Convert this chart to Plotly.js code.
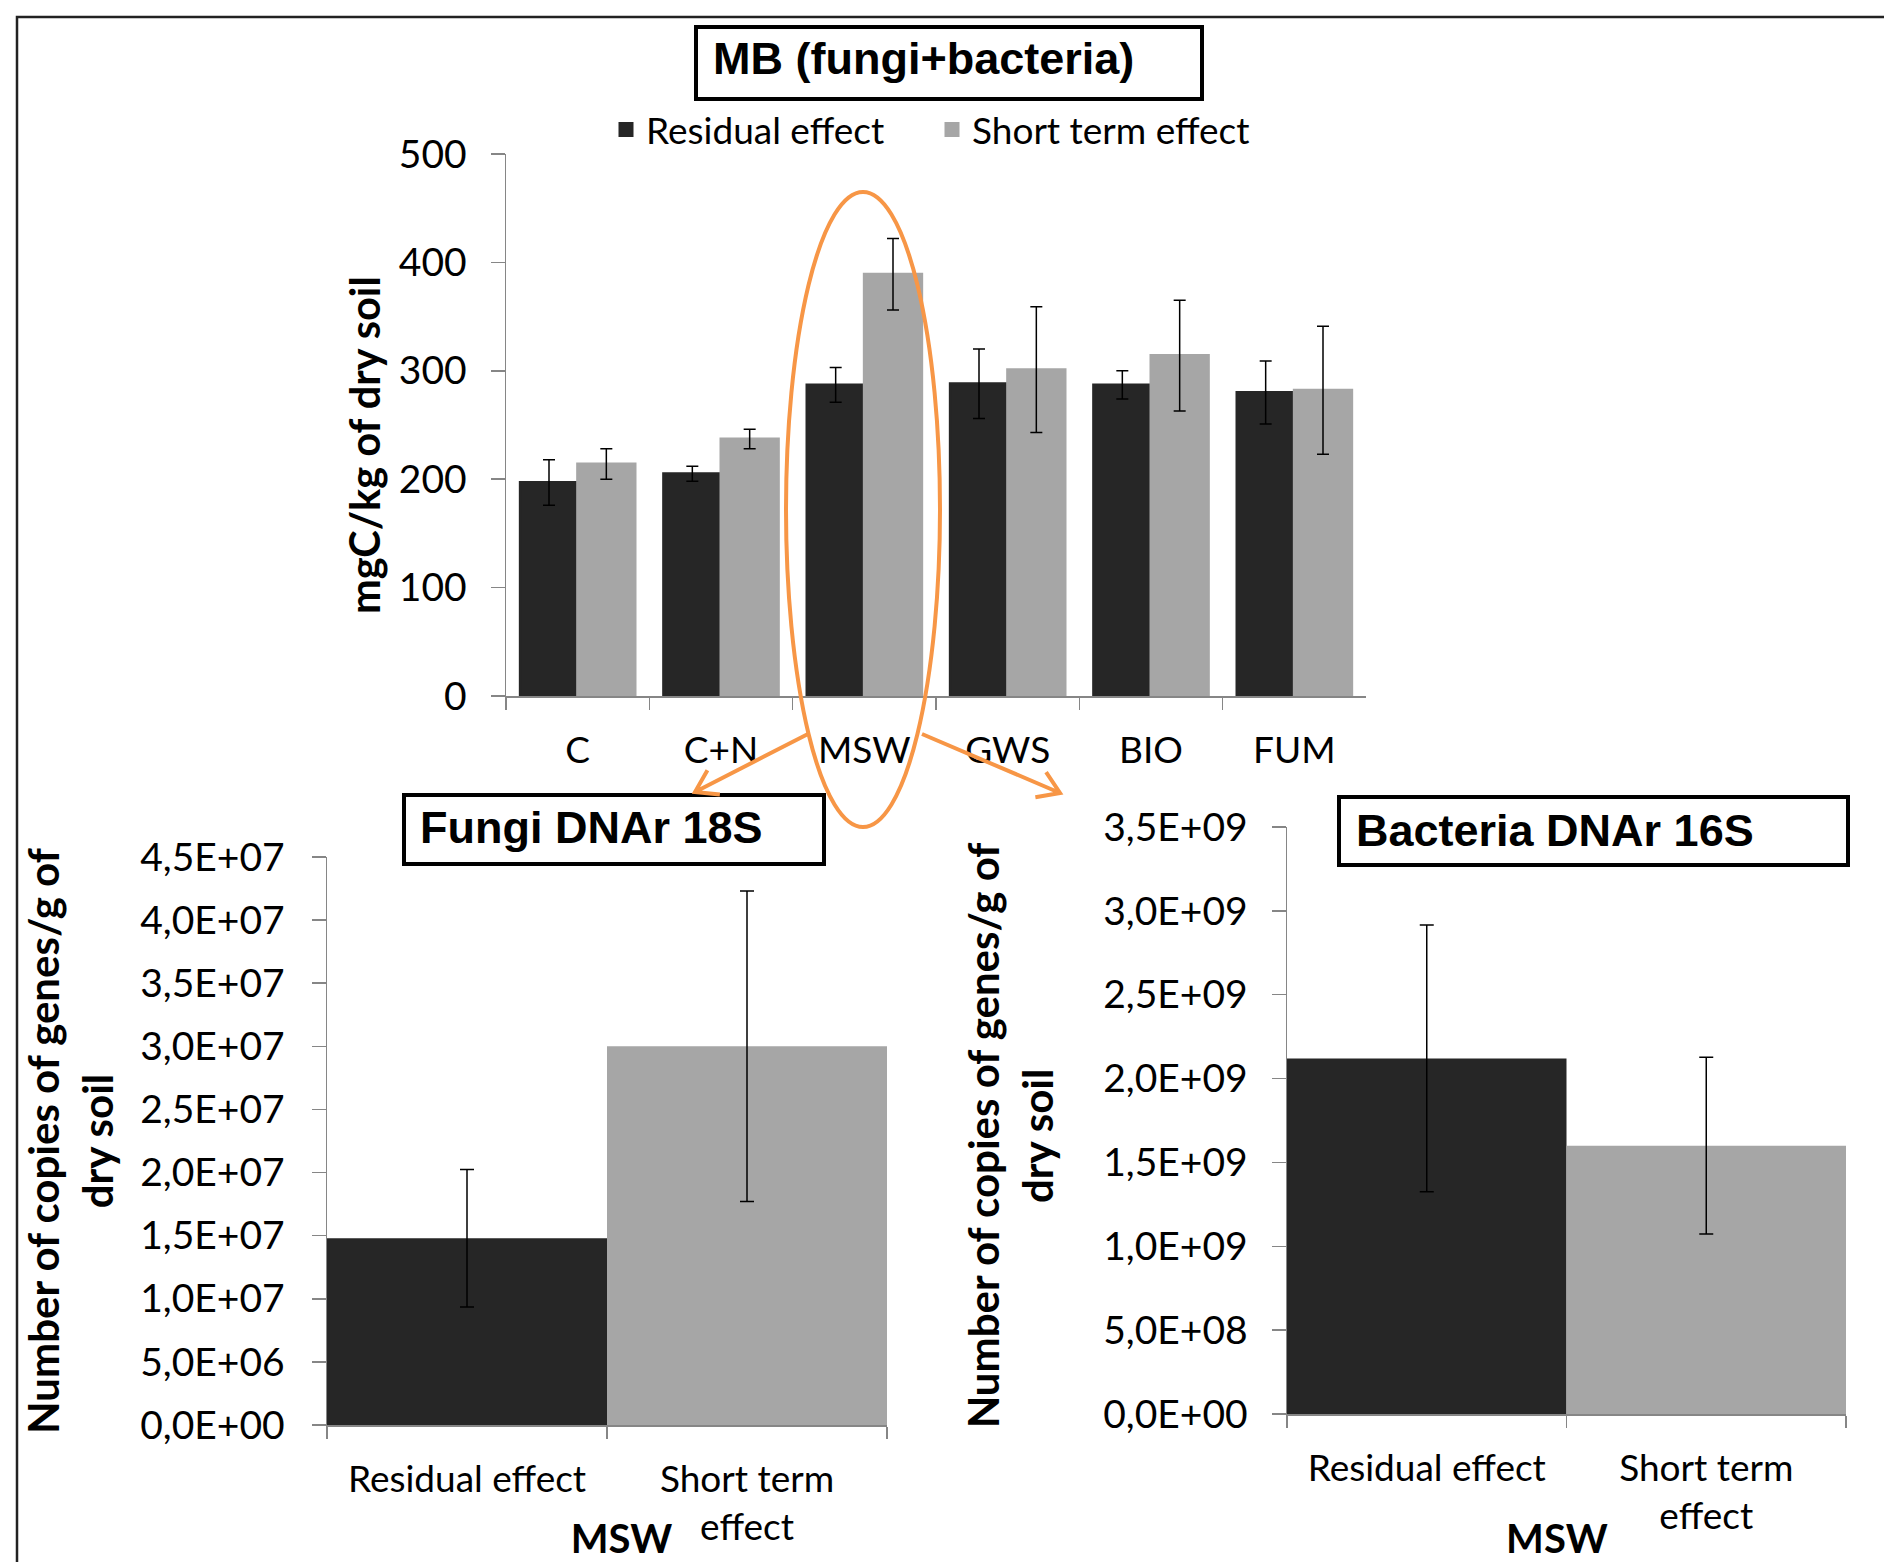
<!DOCTYPE html>
<html>
<head>
<meta charset="utf-8">
<script src="https://cdn.plot.ly/plotly-3.0.1.min.js"></script>
<style>
html, body { margin: 0; padding: 0; background: #ffffff; }
#chart { width: 1884px; height: 1562px; }
</style>
</head>
<body>
<div id="chart"></div>
<script>
// ---------------- DATA ----------------
const treatments = ['C', 'C+N', 'MSW', 'GWS', 'BIO', 'FUM'];
const residualMB = [197, 205, 287, 288, 287, 280];
const residualMBErr = [21, 7, 16, 32, 13, 29];
const shortMB = [214, 237, 389, 301, 314, 282];
const shortMBErr = [14, 9, 33, 58, 51, 59];

const effectLabels = ['Residual effect', 'Short term<br>effect'];
const fungiCopies = [1.48e7, 3.0e7];
const fungiErr = [5.45e6, 1.23e7];
const bacteriaCopies = [2.12e9, 1.60e9];
const bacteriaErr = [7.95e8, 5.27e8];

const mbTickVals = [0, 100, 200, 300, 400, 500];
const fungiTickVals = [0, 5e6, 1e7, 1.5e7, 2e7, 2.5e7, 3e7, 3.5e7, 4e7, 4.5e7];
const fungiTickText = ['0,0E+00', '5,0E+06', '1,0E+07', '1,5E+07', '2,0E+07', '2,5E+07', '3,0E+07', '3,5E+07', '4,0E+07', '4,5E+07'];
const bacteriaTickVals = [0, 5e8, 1e9, 1.5e9, 2e9, 2.5e9, 3e9, 3.5e9];
const bacteriaTickText = ['0,0E+00', '5,0E+08', '1,0E+09', '1,5E+09', '2,0E+09', '2,5E+09', '3,0E+09', '3,5E+09'];

// ---------------- STYLE ----------------
const W = 1884, H = 1562;
const DARK = '#262626', LIGHT = '#a6a6a6', AX = '#868686', ORANGE = '#f79646';
const SANS = 'Lato, "Open Sans", sans-serif';
const ARIAL = '"Liberation Sans", Arial, sans-serif';
const px = x => x / W;
const py = y => 1 - y / H;
const NB = n => '&nbsp;'.repeat(n);   // invisible padding used to nudge centred titles

const traces = [
  {
    type: 'bar', name: 'Residual effect', x: treatments, y: residualMB,
    xaxis: 'x', yaxis: 'y', legend: 'legend',
    marker: { color: DARK, line: { color: DARK, width: 3 } },
    error_y: { type: 'data', array: residualMBErr, visible: true, color: '#000', thickness: 1.5, width: 6 }
  },
  {
    type: 'bar', name: 'Short term effect', x: treatments, y: shortMB,
    xaxis: 'x', yaxis: 'y', legend: 'legend2',
    marker: { color: LIGHT, line: { color: LIGHT, width: 3 } },
    error_y: { type: 'data', array: shortMBErr, visible: true, color: '#000', thickness: 1.5, width: 6 }
  },
  {
    type: 'bar', x: effectLabels, y: fungiCopies, width: 1, showlegend: false,
    xaxis: 'x2', yaxis: 'y2',
    marker: { color: [DARK, LIGHT] },
    error_y: { type: 'data', array: fungiErr, visible: true, color: '#000', thickness: 1.5, width: 7 }
  },
  {
    type: 'bar', x: effectLabels, y: bacteriaCopies, width: 1, showlegend: false,
    xaxis: 'x3', yaxis: 'y3',
    marker: { color: [DARK, LIGHT] },
    error_y: { type: 'data', array: bacteriaErr, visible: true, color: '#000', thickness: 1.5, width: 7 }
  }
];

function xAxis(domain, anchor, titleText, titleStandoff) {
  const a = {
    domain: domain, anchor: anchor, type: 'category',
    showline: true, linecolor: AX, linewidth: 1.5,
    ticks: 'outside', tickson: 'boundaries', ticklen: 12, tickwidth: 1.5, tickcolor: AX,
    tickfont: { family: SANS, size: 37, color: '#000' },
    ticklabelstandoff: 21,
    showgrid: false, zeroline: false, fixedrange: true
  };
  if (titleText) a.title = { text: titleText, standoff: titleStandoff, font: { family: SANS, size: 40, color: '#000', weight: 'bold' } };
  return a;
}
function yAxis(domain, anchor, range, vals, text, titleText, standoff, titleSize, labelStandoff) {
  return {
    domain: domain, anchor: anchor, range: range,
    tickmode: 'array', tickvals: vals, ticktext: text,
    showline: true, linecolor: AX, linewidth: 1.5,
    ticks: 'outside', ticklen: 14, tickwidth: 1.5, tickcolor: AX,
    tickfont: { family: SANS, size: 39, color: '#000' },
    ticklabelstandoff: labelStandoff,
    showgrid: false, zeroline: false, fixedrange: true,
    title: { text: titleText, standoff: standoff, font: { family: SANS, size: titleSize, color: '#000', weight: 'bold' } }
  };
}

function arrowPath(t, h, len, ang) {
  const dx = h[0] - t[0], dy = h[1] - t[1];
  const L = Math.hypot(dx, dy);
  const bx = -dx / L, by = -dy / L;
  const r = ang * Math.PI / 180;
  const c = Math.cos(r), s = Math.sin(r);
  const b1 = [h[0] + len * (bx * c - by * s), h[1] + len * (bx * s + by * c)];
  const b2 = [h[0] + len * (bx * c + by * s), h[1] + len * (-bx * s + by * c)];
  const P = p => px(p[0]) + ',' + py(p[1]);
  return 'M' + P(t) + ' L' + P(h) + ' M' + P(b1) + ' L' + P(h) + ' L' + P(b2);
}

function rect(x0, y0, x1, y1, color, width) {
  return { type: 'rect', xref: 'paper', yref: 'paper', x0: px(x0), x1: px(x1), y0: py(y0), y1: py(y1),
           line: { color: color, width: width }, fillcolor: 'rgba(0,0,0,0)', layer: 'above' };
}

const shapes = [
  rect(17, 17, 1910, 1600, '#222', 2.5),
  rect(696, 27, 1202, 99, '#000', 4),
  rect(404, 795, 824, 864, '#000', 4),
  rect(1339, 797, 1848, 865, '#000', 4),
  { type: 'circle', xref: 'paper', yref: 'paper', x0: px(786), x1: px(940), y0: py(827), y1: py(192),
    line: { color: ORANGE, width: 4 }, layer: 'above' },
  { type: 'path', xref: 'paper', yref: 'paper', path: arrowPath([808, 734], [695, 792], 25, 33),
    line: { color: ORANGE, width: 4 }, layer: 'above' },
  { type: 'path', xref: 'paper', yref: 'paper', path: arrowPath([922, 734], [1060, 793], 25, 33),
    line: { color: ORANGE, width: 4 }, layer: 'above' }
];

const titleFont = { family: ARIAL, size: 45, color: '#000', weight: 'bold' };
const annotations = [
  { xref: 'paper', yref: 'paper', x: px(711), y: py(58), xanchor: 'left', yanchor: 'middle',
    text: 'MB (fungi+bacteria)', showarrow: false, font: titleFont },
  { xref: 'paper', yref: 'paper', x: px(418), y: py(828), xanchor: 'left', yanchor: 'middle',
    text: 'Fungi DNAr 18S', showarrow: false, font: titleFont },
  { xref: 'paper', yref: 'paper', x: px(1354), y: py(830), xanchor: 'left', yanchor: 'middle',
    text: 'Bacteria DNAr 16S', showarrow: false, font: titleFont }
];

const legendBase = {
  orientation: 'h', xanchor: 'left', yanchor: 'middle', y: py(130),
  font: { family: SANS, size: 37, color: '#000' }, bgcolor: 'rgba(0,0,0,0)', borderwidth: 0
};

const layout = {
  width: W, height: H,
  margin: { l: 0, r: 0, t: 0, b: 0 },
  paper_bgcolor: '#ffffff', plot_bgcolor: 'rgba(0,0,0,0)',
  barmode: 'group', bargap: 0.2, bargroupgap: 0,
  hovermode: false,
  showlegend: true,
  legend: Object.assign({}, legendBase, { x: px(606) }),
  legend2: Object.assign({}, legendBase, { x: px(932) }),
  xaxis: xAxis([px(506), px(1366)], 'y'),
  yaxis: yAxis([py(696), py(154)], 'x', [0, 500], mbTickVals, mbTickVals.map(String),
               'mgC/kg of dry soil' + NB(4), 5, 41.5, 16),
  xaxis2: xAxis([px(327), px(887)], 'y2', NB(3) + 'MSW', 11),
  yaxis2: yAxis([py(1425), py(857)], 'x2', [0, 4.5e7], fungiTickVals, fungiTickText,
                'Number of copies of genes/g of<br>dry soil', 13, 42, 19),
  xaxis3: xAxis([px(1287), px(1846)], 'y3', 'MSW' + NB(2), 18),
  yaxis3: yAxis([py(1414), py(827)], 'x3', [0, 3.5e9], bacteriaTickVals, bacteriaTickText,
                'Number of copies of genes/g of' + NB(3) + '<br>dry soil' + NB(3), 36, 42, 16),
  shapes: shapes,
  annotations: annotations,
  font: { family: SANS, color: '#000' }
};

Plotly.newPlot('chart', traces, layout, { displayModeBar: false, staticPlot: true });
</script>
</body>
</html>
